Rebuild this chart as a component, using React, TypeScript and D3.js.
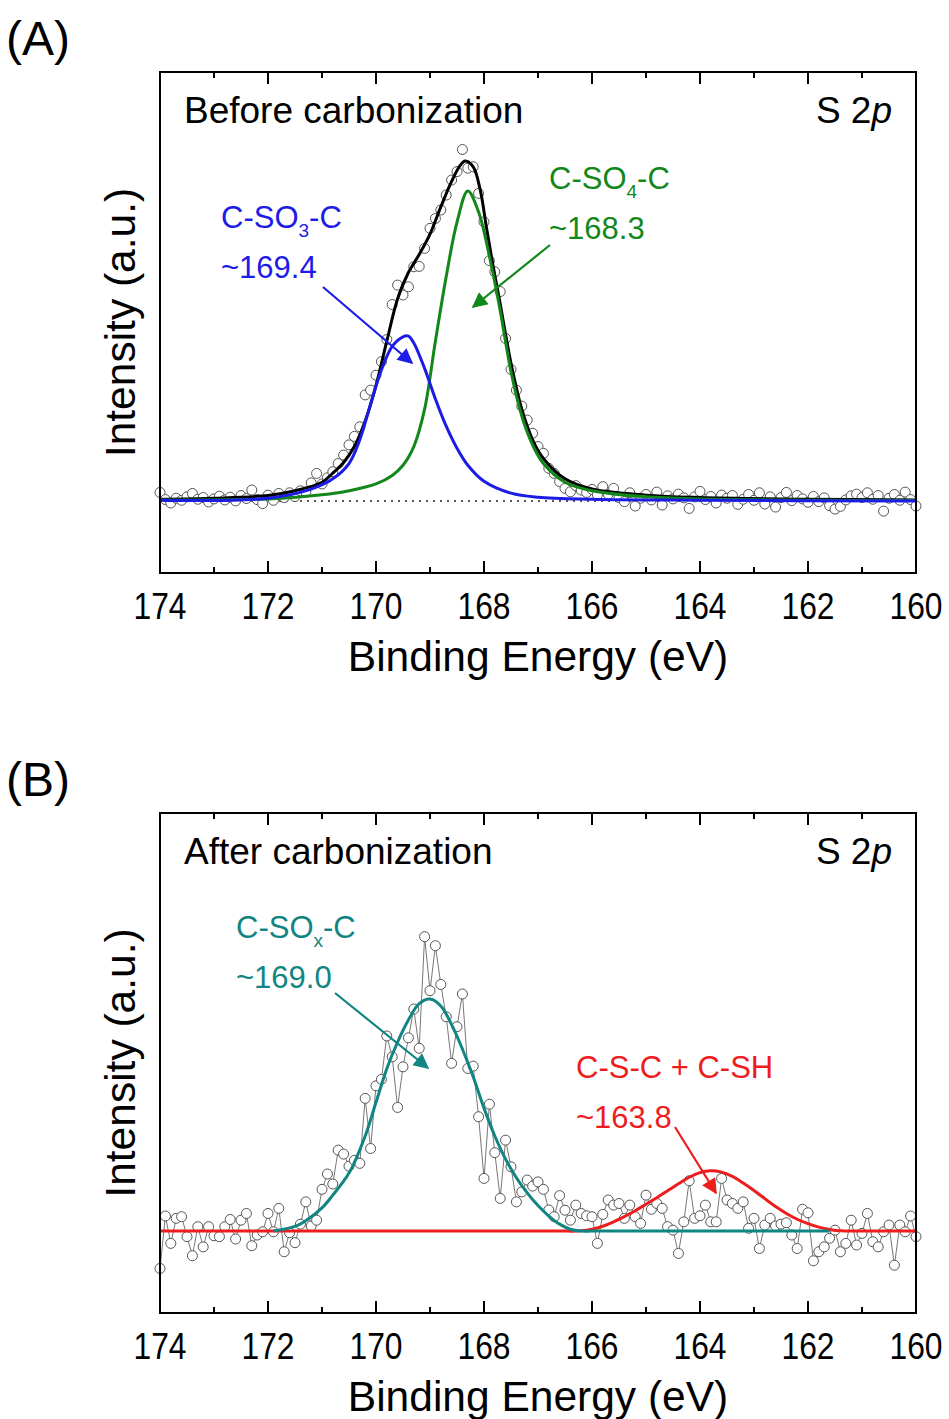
import { useEffect, useRef } from "react";
import * as d3 from "d3";

// binding energy grid, 0.1 eV steps from 174 to 160
const energies = d3.range(0, 141).map((i) => +(174 - i * 0.1).toFixed(1));

// (A) before carbonization, measured points
const beforePoints = [
  2.5, 0.4, -0.6, 0.8, 0.2, 1.2, 2.2, 0.5, 1.0, -0.3,
  0.6, 1.4, 0.3, 1.1, 0.0, 1.6, 0.7, 3.2, 0.4, -0.8,
  1.7, 0.2, 2.2, 1.0, 2.4, 1.3, 3.0, 2.6, 5.3, 8.1,
  5.0, 6.8, 8.6, 11.0, 13.5, 16.5, 19.0, 21.8, 31.2, 32.6,
  37.0, 41.0, 47.5, 57.8, 63.5, 60.6, 63.0, 68.9, 69.0, 74.3,
  80.2, 83.1, 85.6, 90.0, 94.4, 96.9, 103.4, 97.9, 98.3, 90.5,
  82.1, 70.7, 67.4, 61.6, 47.8, 38.7, 32.6, 27.9, 23.8, 19.9,
  16.0, 14.0, 9.6, 8.1, 5.7, 3.7, 2.7, 4.5, 3.2, 2.5,
  3.4, 1.8, 4.2, 2.0, 3.7, 1.0, -0.2, 2.4, -1.5, 0.8,
  1.9, 0.3, 2.6, -1.2, 1.5, 0.6, 2.0, 0.9, -2.2, 1.2,
  2.8, 0.4, 1.3, -0.6, 1.7, 0.8, 1.6, -1.0, 0.5, 1.9,
  0.2, 2.4, -0.9, 1.2, -1.8, 1.0, 2.5, 0.1, 1.6, 0.6,
  -0.4, 1.3, -0.2, 0.9, -1.4, -2.4, -1.6, 0.3, 1.5, 2.0,
  1.0, 2.4, 0.5, 1.6, -3.0, 0.8, 1.9, 0.2, 2.6, 0.4,
  -1.5,
];

// (A) fitted envelope and components [eV, intensity]
const beforeEnvelope: [number, number][] = [
  [174, 0.5], [173, 0.8], [172, 1.6], [171.5, 3.0], [171, 5.5], [170.8, 8.2],
  [170.6, 11.3], [170.4, 16], [170.2, 23.5], [170.0, 34], [169.8, 47], [169.6, 59.5],
  [169.4, 67.2], [169.2, 72.5], [169.0, 78.5], [168.8, 86.5], [168.6, 94],
  [168.45, 98.5], [168.35, 100], [168.2, 98.3], [168.07, 91.5], [167.95, 80],
  [167.83, 69], [167.7, 58], [167.6, 49], [167.5, 40.5], [167.3, 27], [167.1, 18],
  [166.9, 12.5], [166.5, 6.5], [166, 3.5], [165, 1.7], [164, 1.0], [162, 0.5],
  [160, 0.3],
];
const so3Fit: [number, number][] = [
  [174, 0.2], [172, 0.8], [171.2, 3.5], [170.8, 6.5], [170.5, 11], [170.3, 18],
  [170.1, 28.5], [169.9, 38.5], [169.7, 45.5], [169.5, 48.3], [169.4, 48.5],
  [169.3, 46.5], [169.1, 39], [168.9, 30], [168.7, 22], [168.5, 15.5],
  [168.3, 10.5], [168.0, 5.8], [167.5, 2.3], [167, 1.1], [166, 0.5], [164, 0.2],
  [160, 0],
];
const so4Fit: [number, number][] = [
  [174, 0.3], [172, 0.6], [171, 1.8], [170.5, 3.0], [170, 5.0], [169.7, 7.5],
  [169.5, 10.5], [169.3, 16], [169.1, 27], [168.9, 47], [168.7, 66], [168.5, 82],
  [168.3, 91.2], [168.1, 85], [167.9, 72], [167.7, 56], [167.5, 38], [167.3, 25],
  [167.1, 16.5], [166.9, 11], [166.5, 5.5], [166, 3], [165, 1.2], [164, 0.6],
  [160, 0.1],
];

// (B) after carbonization, measured points
const afterPoints = [
  -16.1, 6.5, -5.3, 5.5, 6.2, -2.4, -10.6, 1.9, -6.8, 1.9,
  -2.0, -2.4, 1.9, 5.0, -3.4, 4.7, 7.6, -6.3, -1.7, -0.3,
  7.6, -0.3, 9.8, -8.9, -0.7, -5.0, 3.0, 12.6, 2.2, 4.7,
  18.0, 24.6, 20.3, 34.9, 33.2, 28.0, 30.5, 29.2, 57.2, 35.6,
  62.6, 65.4, 84.1, 75.1, 53.3, 70.8, 83.3, 95.7, 78.8, 126.9,
  103.6, 123.0, 106.3, 92.4, 72.3, 88.1, 102.2, 70.1, 71.1, 49.3,
  22.7, 54.7, 33.8, 14.1, 39.2, 27.7, 12.6, 16.9, 22.0, 19.4,
  21.2, 18.0, 9.1, 6.2, 15.3, 9.0, 4.7, 11.2, 7.6, 6.6,
  6.2, -5.3, 7.2, 13.4, 11.2, 11.9, 5.5, 11.2, 6.2, 3.3,
  15.5, 9.4, 11.9, 9.8, 1.9, 0.4, -9.6, 4.0, 21.7, 5.5,
  6.6, 11.2, 4.0, 4.0, 22.7, 13.4, 11.9, 9.8, 12.6, 1.2,
  5.5, -7.5, 2.6, 5.5, 2.2, 3.0, 3.6, -1.7, -7.5, 9.4,
  7.9, -12.8, -8.9, -6.8, -3.1, 0.4, -8.9, -5.3, 4.7, -6.0,
  -1.0, 7.6, -4.6, -6.8, -0.3, 2.6, -14.7, 2.6, -0.3, 6.5,
  -2.4,
];

// (B) fitted components [eV, intensity]
const soxFit: [number, number][] = [
  [171.9, 0], [171.5, 2.0], [171.3, 4.5], [171.0, 10], [170.8, 15.5], [170.5, 25],
  [170.2, 41], [170.0, 55.5], [169.8, 70], [169.6, 81.5], [169.4, 91], [169.2, 98],
  [169.0, 100], [168.8, 97], [168.6, 89], [168.4, 78.5], [168.2, 66.5], [168.0, 53],
  [167.8, 41], [167.6, 31], [167.4, 23], [167.2, 16.5], [167.0, 11],
  [166.8, 6.5], [166.6, 3], [166.4, 0.8], [166.2, 0], [166.0, 0], [165, 0],
  [163, 0], [161.6, 0],
];
const cscFit: [number, number][] = [
  [174, 0], [172, 0], [170, 0], [168, 0], [166.6, 0], [166.2, 0.1],
  [166.0, 0.8], [165.8, 2.1], [165.6, 4.0], [165.4, 6.3],
  [165.2, 8.8], [165.0, 11.6], [164.8, 14.4], [164.6, 17.4], [164.4, 20.4],
  [164.2, 23.2], [164.0, 25.2], [163.8, 26], [163.6, 25.4], [163.4, 23.6],
  [163.2, 20.7], [163.0, 17.5], [162.8, 14], [162.6, 10.6], [162.4, 7.6],
  [162.2, 5.1], [162.0, 3.2], [161.8, 1.7], [161.6, 0.7], [161.4, 0.1],
  [161.0, 0], [160.5, 0], [160, 0],
];

const majorTicks = [174, 172, 170, 168, 166, 164, 162, 160];
const minorTicks = [173, 171, 169, 167, 165, 163, 161];

const FONT = "'Liberation Sans', Arial, Helvetica, sans-serif";
const BLUE = "#1c1ce6";
const GREEN = "#12871a";
const TEAL = "#118583";
const RED = "#ee1c1c";

type Label = {
  color: string;
  x: number;
  y: number;
  name: [string, string, string];
  value: string;
  arrow: [number, number, number, number];
};

export default function App() {
  const svgRef = useRef<SVGSVGElement>(null);

  useEffect(() => {
    const svg = d3.select(svgRef.current);
    svg.selectAll("*").remove();

    const x = d3.scaleLinear().domain([174, 160]).range([160, 916]);

    const colors = [BLUE, GREEN, TEAL, RED];
    const defs = svg.append("defs");
    colors.forEach((c, i) => {
      defs
        .append("marker")
        .attr("id", "arr" + i)
        .attr("viewBox", "0 0 10 10")
        .attr("refX", 9)
        .attr("refY", 5)
        .attr("markerWidth", 9)
        .attr("markerHeight", 7)
        .attr("markerUnits", "strokeWidth")
        .attr("orient", "auto")
        .append("path")
        .attr("d", "M0,0 L10,5 L0,10 z")
        .attr("fill", c);
    });
    const markerOf = (c: string) => "url(#arr" + colors.indexOf(c) + ")";

    const drawPanel = (opts: {
      top: number;
      bottom: number;
      yDomain: [number, number];
      letter: string;
      title: string;
      points: number[];
      connect: boolean;
      curves: { data: [number, number][]; color: string }[];
      dotted: boolean;
      labels: Label[];
    }) => {
      const { top, bottom } = opts;
      const y = d3.scaleLinear().domain(opts.yDomain).range([bottom, top]);
      const g = svg.append("g");

      if (opts.dotted) {
        g.append("line")
          .attr("x1", x(174))
          .attr("x2", x(160))
          .attr("y1", y(0))
          .attr("y2", y(0))
          .attr("stroke", "#222")
          .attr("stroke-width", 1.5)
          .attr("stroke-dasharray", "2,5");
      }

      const pts = energies.map((e, i) => [e, opts.points[i]] as [number, number]);
      const line = d3
        .line<[number, number]>()
        .x((d) => x(d[0]))
        .y((d) => y(d[1]));

      if (opts.connect) {
        g.append("path")
          .attr("d", line(pts))
          .attr("fill", "none")
          .attr("stroke", "#777")
          .attr("stroke-width", 1);
      }

      g.selectAll("circle.pt")
        .data(pts)
        .enter()
        .append("circle")
        .attr("class", "pt")
        .attr("cx", (d) => x(d[0]))
        .attr("cy", (d) => y(d[1]))
        .attr("r", 5)
        .attr("fill", "white")
        .attr("stroke", "#555")
        .attr("stroke-width", 1);

      const smooth = d3
        .line<[number, number]>()
        .x((d) => x(d[0]))
        .y((d) => y(d[1]))
        .curve(d3.curveCatmullRom.alpha(0.5));

      opts.curves.forEach((c) => {
        g.append("path")
          .attr("d", smooth(c.data))
          .attr("fill", "none")
          .attr("stroke", c.color)
          .attr("stroke-width", 3);
      });

      // frame
      g.append("rect")
        .attr("x", x(174))
        .attr("y", top)
        .attr("width", x(160) - x(174))
        .attr("height", bottom - top)
        .attr("fill", "none")
        .attr("stroke", "#000")
        .attr("stroke-width", 2);

      // inward ticks, bottom and top
      const tickLine = (vals: number[], len: number) => {
        vals.forEach((v) => {
          g.append("line")
            .attr("x1", x(v)).attr("x2", x(v))
            .attr("y1", bottom).attr("y2", bottom - len)
            .attr("stroke", "#000").attr("stroke-width", 2);
          g.append("line")
            .attr("x1", x(v)).attr("x2", x(v))
            .attr("y1", top).attr("y2", top + len)
            .attr("stroke", "#000").attr("stroke-width", 2);
        });
      };
      tickLine(majorTicks, 12);
      tickLine(minorTicks, 6);

      majorTicks.forEach((v) => {
        g.append("text")
          .attr("transform", `translate(${x(v)},${bottom + 46}) scale(0.86,1)`)
          .attr("text-anchor", "middle")
          .attr("font-family", FONT)
          .attr("font-size", 37)
          .text(v);
      });

      g.append("text")
        .attr("x", 538)
        .attr("y", bottom + 98)
        .attr("text-anchor", "middle")
        .attr("font-family", FONT)
        .attr("font-size", 42.5)
        .text("Binding Energy (eV)");

      g.append("text")
        .attr("transform", `translate(135,${(top + bottom) / 2}) rotate(-90)`)
        .attr("text-anchor", "middle")
        .attr("font-family", FONT)
        .attr("font-size", 42.5)
        .text("Intensity (a.u.)");

      g.append("text")
        .attr("x", 6)
        .attr("y", top - 17)
        .attr("font-family", FONT)
        .attr("font-size", 48)
        .text(opts.letter);

      g.append("text")
        .attr("x", 184)
        .attr("y", top + 51)
        .attr("font-family", FONT)
        .attr("font-size", 37)
        .text(opts.title);

      const s2p = g
        .append("text")
        .attr("x", 892)
        .attr("y", top + 51)
        .attr("text-anchor", "end")
        .attr("font-family", FONT)
        .attr("font-size", 37);
      s2p.append("tspan").text("S 2");
      s2p.append("tspan").attr("font-style", "italic").text("p");

      opts.labels.forEach((lb) => {
        const t = g
          .append("text")
          .attr("x", lb.x)
          .attr("y", lb.y)
          .attr("fill", lb.color)
          .attr("font-family", FONT)
          .attr("font-size", 31);
        t.append("tspan").text(lb.name[0]);
        t.append("tspan").attr("font-size", 19).attr("dy", 9).text(lb.name[1]);
        t.append("tspan").attr("dy", -9).text(lb.name[2]);
        g.append("text")
          .attr("x", lb.x)
          .attr("y", lb.y + 50)
          .attr("fill", lb.color)
          .attr("font-family", FONT)
          .attr("font-size", 31)
          .text(lb.value);
        const [ax1, ay1, ax2, ay2] = lb.arrow;
        g.append("line")
          .attr("x1", ax1).attr("y1", ay1)
          .attr("x2", ax2).attr("y2", ay2)
          .attr("stroke", lb.color)
          .attr("stroke-width", 2.2)
          .attr("marker-end", markerOf(lb.color));
      });
    };

    drawPanel({
      top: 72,
      bottom: 573,
      yDomain: [-21.2, 126.2],
      letter: "(A)",
      title: "Before carbonization",
      points: beforePoints,
      connect: false,
      curves: [
        { data: beforeEnvelope, color: "#000" },
        { data: so4Fit, color: GREEN },
        { data: so3Fit, color: BLUE },
      ],
      dotted: true,
      labels: [
        { color: BLUE, x: 221, y: 228, name: ["C-SO", "3", "-C"], value: "~169.4", arrow: [323, 287, 412, 363] },
        { color: GREEN, x: 549, y: 189, name: ["C-SO", "4", "-C"], value: "~168.3", arrow: [550, 245, 473, 307] },
      ],
    });

    drawPanel({
      top: 813,
      bottom: 1313,
      yDomain: [-35.3, 180.2],
      letter: "(B)",
      title: "After carbonization",
      points: afterPoints,
      connect: true,
      curves: [
        { data: cscFit, color: RED },
        { data: soxFit, color: TEAL },
      ],
      dotted: false,
      labels: [
        { color: TEAL, x: 236, y: 938, name: ["C-SO", "x", "-C"], value: "~169.0", arrow: [335, 993, 428, 1068] },
        { color: RED, x: 576, y: 1078, name: ["C-S-C + C-SH", "", ""], value: "~163.8", arrow: [675, 1127, 716, 1193] },
      ],
    });
  }, []);

  return (
    <svg
      ref={svgRef}
      width={949}
      height={1419}
      style={{ position: "absolute", left: 0, top: 0, background: "#fff" }}
    />
  );
}
